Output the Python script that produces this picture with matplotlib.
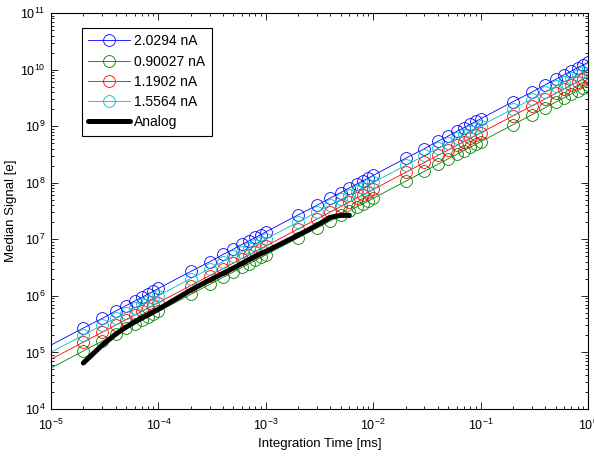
import matplotlib
matplotlib.use('Agg')
import matplotlib.pyplot as plt

plt.rcParams['font.family'] = ['Liberation Sans', 'DejaVu Sans']
plt.rcParams['mathtext.fontset'] = 'custom'
plt.rcParams['mathtext.rm'] = 'Liberation Sans'

# integration times [ms]; first point only anchors the line at the left edge
t = [
    1e-5, 2e-5, 3e-5, 4e-5, 5e-5, 6e-5, 7e-5, 8e-5, 9e-5,
    1e-4, 2e-4, 3e-4, 4e-4, 5e-4, 6e-4, 7e-4, 8e-4, 9e-4,
    1e-3, 2e-3, 3e-3, 4e-3, 5e-3, 6e-3, 7e-3, 8e-3, 9e-3,
    1e-2, 2e-2, 3e-2, 4e-2, 5e-2, 6e-2, 7e-2, 8e-2, 9e-2,
    1e-1, 2e-1, 3e-1, 4e-1, 5e-1, 6e-1, 7e-1, 8e-1, 9e-1,
    1.0
]

sig_2_0294 = [
    1.35e5, 2.7e5, 4.0e5, 5.4e5, 6.7e5, 8.1e5, 9.4e5, 1.08e6, 1.21e6,
    1.35e6, 2.7e6, 4.0e6, 5.4e6, 6.7e6, 8.1e6, 9.4e6, 1.08e7, 1.21e7,
    1.35e7, 2.7e7, 4.0e7, 5.4e7, 6.7e7, 8.1e7, 9.4e7, 1.08e8, 1.21e8,
    1.35e8, 2.7e8, 4.0e8, 5.4e8, 6.7e8, 8.1e8, 9.4e8, 1.08e9, 1.21e9,
    1.35e9, 2.7e9, 4.0e9, 5.4e9, 6.7e9, 8.1e9, 9.4e9, 1.08e10, 1.21e10,
    1.34e10
]
sig_0_90027 = [
    5.3e4, 1.06e5, 1.59e5, 2.12e5, 2.65e5, 3.18e5, 3.71e5, 4.24e5, 4.77e5,
    5.3e5, 1.06e6, 1.59e6, 2.12e6, 2.65e6, 3.18e6, 3.71e6, 4.24e6, 4.77e6,
    5.3e6, 1.06e7, 1.59e7, 2.12e7, 2.65e7, 3.18e7, 3.71e7, 4.24e7, 4.77e7,
    5.3e7, 1.06e8, 1.59e8, 2.12e8, 2.65e8, 3.18e8, 3.71e8, 4.24e8, 4.77e8,
    5.3e8, 1.06e9, 1.59e9, 2.12e9, 2.65e9, 3.18e9, 3.71e9, 4.24e9, 4.77e9,
    5.3e9
]
sig_1_1902 = [
    7.6e4, 1.52e5, 2.28e5, 3.04e5, 3.8e5, 4.56e5, 5.32e5, 6.08e5, 6.84e5,
    7.6e5, 1.52e6, 2.28e6, 3.04e6, 3.8e6, 4.56e6, 5.32e6, 6.08e6, 6.84e6,
    7.6e6, 1.52e7, 2.28e7, 3.04e7, 3.8e7, 4.56e7, 5.32e7, 6.08e7, 6.84e7,
    7.6e7, 1.52e8, 2.28e8, 3.04e8, 3.8e8, 4.56e8, 5.32e8, 6.08e8, 6.84e8,
    7.6e8, 1.52e9, 2.28e9, 3.04e9, 3.8e9, 4.56e9, 5.32e9, 6.08e9, 6.84e9,
    7.6e9
]
sig_1_5564 = [
    1.01e5, 2.02e5, 3.03e5, 4.04e5, 5.05e5, 6.06e5, 7.07e5, 8.08e5, 9.09e5,
    1.01e6, 2.02e6, 3.03e6, 4.04e6, 5.05e6, 6.06e6, 7.07e6, 8.08e6, 9.09e6,
    1.01e7, 2.02e7, 3.03e7, 4.04e7, 5.05e7, 6.06e7, 7.07e7, 8.08e7, 9.09e7,
    1.01e8, 2.02e8, 3.03e8, 4.04e8, 5.05e8, 6.06e8, 7.07e8, 8.08e8, 9.09e8,
    1.01e9, 2.02e9, 3.03e9, 4.04e9, 5.05e9, 6.06e9, 7.07e9, 8.08e9, 9.09e9,
    1.01e10
]

t_analog = [
    2e-5, 3e-5, 4e-5, 5e-5, 6e-5, 7e-5, 8e-5, 9e-5,
    1e-4, 2e-4, 3e-4, 4e-4, 5e-4, 6e-4, 7e-4, 8e-4, 9e-4,
    1e-3, 2e-3, 3e-3, 4e-3, 5e-3, 6e-3
]
analog = [
    6.5e4, 1.35e5, 2.1e5, 2.8e5, 3.45e5, 4.05e5, 4.6e5, 5.2e5,
    5.8e5, 1.26e6, 1.9e6, 2.5e6, 3.1e6, 3.75e6, 4.4e6, 5.0e6, 5.6e6,
    6.1e6, 1.18e7, 1.77e7, 2.45e7, 2.65e7, 2.65e7
]

series = [
    (sig_2_0294, 'blue', '2.0294 nA'),
    (sig_0_90027, '#008000', '0.90027 nA'),
    (sig_1_1902, 'red', '1.1902 nA'),
    (sig_1_5564, '#00bfbf', '1.5564 nA'),
]

fig = plt.figure(figsize=(5.94, 4.57), dpi=100)
ax = fig.add_axes([51 / 594, 48 / 457, 537 / 594, 396 / 457])

for vals, col, lab in series:
    ax.plot(t, vals, '-o', color=col, lw=0.6, ms=8.5, mfc='none', mew=0.6,
            markevery=list(range(1, len(t))), label=lab)

ax.plot(t_analog, analog, '-', color='black', lw=3.6, solid_capstyle='round',
        label='Analog')

ax.set_xscale('log')
ax.set_yscale('log')
ax.set_xlim(1e-5, 1)
ax.set_ylim(1e4, 1e11)
ax.set_yticks([1e4, 1e5, 1e6, 1e7, 1e8, 1e9, 1e10, 1e11])
ax.tick_params(which='both', direction='in', top=True, right=True,
               labelsize=9, width=0.6)
ax.tick_params(axis='y', which='major', pad=4)
ax.tick_params(axis='x', which='major', pad=6)
ax.tick_params(which='major', length=5)
ax.tick_params(which='minor', length=2.5)
for s in ax.spines.values():
    s.set_linewidth(0.8)

ax.set_xlabel('Integration Time [ms]', fontsize=9.5, labelpad=4)
ax.set_ylabel('Median Signal [e]', fontsize=9.5)
ax.yaxis.set_label_coords(-0.063, 0.5)

leg = ax.legend(loc='upper left', bbox_to_anchor=(0.057, 0.962), borderaxespad=0,
                fontsize=10, fancybox=False, edgecolor='black', framealpha=1,
                handlelength=3.0, labelspacing=0.45, borderpad=0.45,
                handletextpad=0.35)
leg.get_frame().set_linewidth(0.8)

fig.savefig('out.png', dpi=100)
